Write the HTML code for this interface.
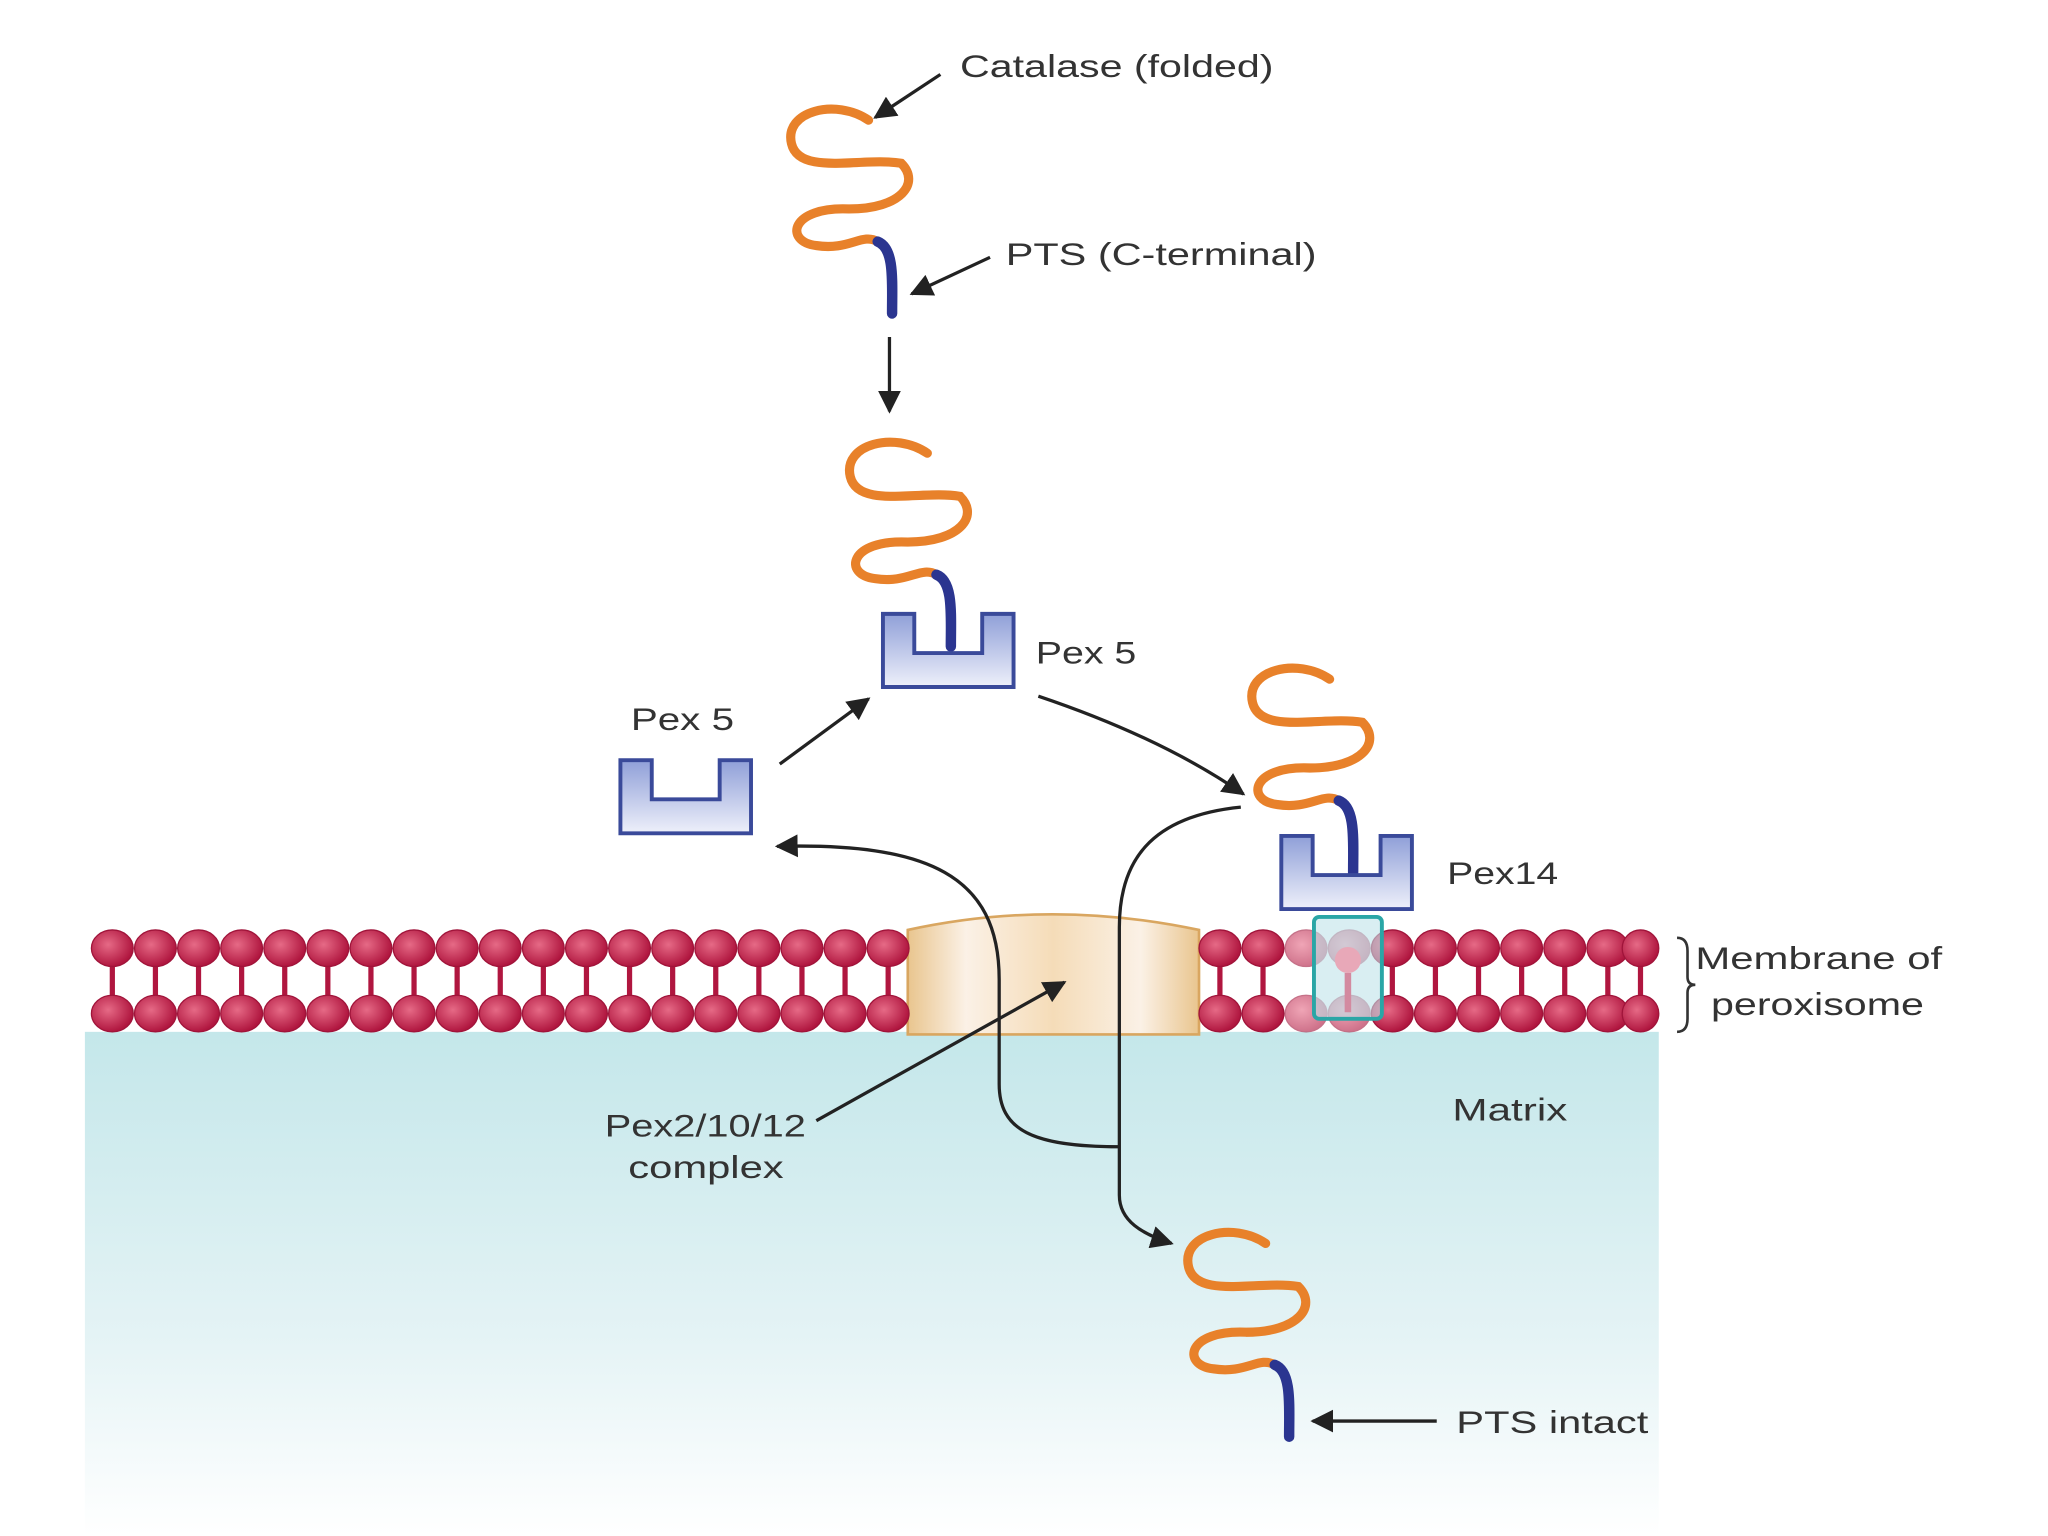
<!DOCTYPE html>
<html><head><meta charset="utf-8"><style>
html,body{margin:0;padding:0;background:#fff;}
svg{display:block;}
text{font-family:"Liberation Sans",sans-serif;fill:#333;font-size:24px;}
</style></head><body>
<svg width="2048" height="1536" viewBox="0 0 1568 1176" preserveAspectRatio="none">
<defs>
<linearGradient id="mx" x1="0" y1="0" x2="0" y2="1">
<stop offset="0" stop-color="#c4e7ea"/><stop offset="0.6" stop-color="#e4f3f5"/><stop offset="1" stop-color="#ffffff"/></linearGradient>
<linearGradient id="cup" x1="0" y1="0" x2="0" y2="1">
<stop offset="0" stop-color="#8f9fd8"/><stop offset="1" stop-color="#eef0fa"/></linearGradient>
<linearGradient id="cx" x1="0" y1="0" x2="1" y2="0">
<stop offset="0" stop-color="#e9c58e"/><stop offset="0.2" stop-color="#fbf1e6"/><stop offset="0.5" stop-color="#f5dcb8"/><stop offset="0.8" stop-color="#fbf1e6"/><stop offset="1" stop-color="#e9c58e"/></linearGradient>
<radialGradient id="hd" cx="0.4" cy="0.4" r="0.6">
<stop offset="0" stop-color="#e66a86"/><stop offset="1" stop-color="#b0163f"/></radialGradient>
<marker id="ah" viewBox="0 0 10 10" refX="9" refY="5" markerWidth="7" markerHeight="7" orient="auto"><path d="M0,0 L10,5 L0,10 z" fill="#222"/></marker>
<g id="prot">
<path d="M665,92 C640,75 600,85 606,110 C612,135 660,120 690,125 C705,140 690,160 650,160 C605,158 600,185 625,188 C650,192 660,178 672,185" fill="none" stroke="#e8812a" stroke-width="7" stroke-linecap="round"/>
<path d="M672,185 C685,190 683,215 683,240" fill="none" stroke="#2b3590" stroke-width="8" stroke-linecap="round"/>
</g>
<path id="cupp" d="M0,0 H24 V30 H76 V0 H100 V56 H0 Z" fill="url(#cup)" stroke="#3a4a9a" stroke-width="3"/>
</defs>
<rect x="65" y="790" width="1205" height="386" fill="url(#mx)"/>
<g stroke="#b0163f" stroke-width="4">
<path d="M86,726V776M119,726V776M152,726V776M185,726V776M218,726V776M251,726V776M284,726V776M317,726V776M350,726V776M383,726V776M416,726V776M449,726V776M482,726V776M515,726V776M548,726V776M581,726V776M614,726V776M647,726V776M680,726V776M934,726V776M967,726V776M1066,726V776M1099,726V776M1132,726V776M1165,726V776M1198,726V776M1231,726V776M1256,726V776"/>
</g>
<path d="M695,712 Q805,688 918,712 L918,792 L695,792 Z" fill="url(#cx)" stroke="#d9a660" stroke-width="2"/>
<use href="#prot"/>
<use href="#prot" transform="translate(45,255)"/>
<use href="#prot" transform="translate(353,428)"/>
<use href="#prot" transform="translate(304,860)"/>
<use href="#cupp" transform="translate(676,470)"/>
<use href="#cupp" transform="translate(475,582)"/>
<use href="#cupp" transform="translate(981,640)"/>
<g fill="url(#hd)" stroke="#a0143a" stroke-width="1">
<ellipse cx="86" cy="726" rx="16" ry="14"/><ellipse cx="86" cy="776" rx="16" ry="14"/>
<ellipse cx="119" cy="726" rx="16" ry="14"/><ellipse cx="119" cy="776" rx="16" ry="14"/>
<ellipse cx="152" cy="726" rx="16" ry="14"/><ellipse cx="152" cy="776" rx="16" ry="14"/>
<ellipse cx="185" cy="726" rx="16" ry="14"/><ellipse cx="185" cy="776" rx="16" ry="14"/>
<ellipse cx="218" cy="726" rx="16" ry="14"/><ellipse cx="218" cy="776" rx="16" ry="14"/>
<ellipse cx="251" cy="726" rx="16" ry="14"/><ellipse cx="251" cy="776" rx="16" ry="14"/>
<ellipse cx="284" cy="726" rx="16" ry="14"/><ellipse cx="284" cy="776" rx="16" ry="14"/>
<ellipse cx="317" cy="726" rx="16" ry="14"/><ellipse cx="317" cy="776" rx="16" ry="14"/>
<ellipse cx="350" cy="726" rx="16" ry="14"/><ellipse cx="350" cy="776" rx="16" ry="14"/>
<ellipse cx="383" cy="726" rx="16" ry="14"/><ellipse cx="383" cy="776" rx="16" ry="14"/>
<ellipse cx="416" cy="726" rx="16" ry="14"/><ellipse cx="416" cy="776" rx="16" ry="14"/>
<ellipse cx="449" cy="726" rx="16" ry="14"/><ellipse cx="449" cy="776" rx="16" ry="14"/>
<ellipse cx="482" cy="726" rx="16" ry="14"/><ellipse cx="482" cy="776" rx="16" ry="14"/>
<ellipse cx="515" cy="726" rx="16" ry="14"/><ellipse cx="515" cy="776" rx="16" ry="14"/>
<ellipse cx="548" cy="726" rx="16" ry="14"/><ellipse cx="548" cy="776" rx="16" ry="14"/>
<ellipse cx="581" cy="726" rx="16" ry="14"/><ellipse cx="581" cy="776" rx="16" ry="14"/>
<ellipse cx="614" cy="726" rx="16" ry="14"/><ellipse cx="614" cy="776" rx="16" ry="14"/>
<ellipse cx="647" cy="726" rx="16" ry="14"/><ellipse cx="647" cy="776" rx="16" ry="14"/>
<ellipse cx="680" cy="726" rx="16" ry="14"/><ellipse cx="680" cy="776" rx="16" ry="14"/>
<ellipse cx="934" cy="726" rx="16" ry="14"/><ellipse cx="934" cy="776" rx="16" ry="14"/>
<ellipse cx="967" cy="726" rx="16" ry="14"/><ellipse cx="967" cy="776" rx="16" ry="14"/>
<ellipse cx="1066" cy="726" rx="16" ry="14"/><ellipse cx="1066" cy="776" rx="16" ry="14"/>
<ellipse cx="1099" cy="726" rx="16" ry="14"/><ellipse cx="1099" cy="776" rx="16" ry="14"/>
<ellipse cx="1132" cy="726" rx="16" ry="14"/><ellipse cx="1132" cy="776" rx="16" ry="14"/>
<ellipse cx="1165" cy="726" rx="16" ry="14"/><ellipse cx="1165" cy="776" rx="16" ry="14"/>
<ellipse cx="1198" cy="726" rx="16" ry="14"/><ellipse cx="1198" cy="776" rx="16" ry="14"/>
<ellipse cx="1231" cy="726" rx="16" ry="14"/><ellipse cx="1231" cy="776" rx="16" ry="14"/>
<ellipse cx="1256" cy="726" rx="14" ry="14"/><ellipse cx="1256" cy="776" rx="14" ry="14"/>
</g>
<g fill="url(#hd)" stroke="#a0143a" stroke-width="1" opacity="0.6">
<ellipse cx="1000" cy="726" rx="16" ry="14"/><ellipse cx="1000" cy="776" rx="16" ry="14"/>
<ellipse cx="1033" cy="726" rx="16" ry="14"/><ellipse cx="1033" cy="776" rx="16" ry="14"/>
</g>
<rect x="1006" y="702" width="52" height="78" rx="4" fill="#bfe3ea" fill-opacity="0.6" stroke="#2aa6a6" stroke-width="3"/>
<path d="M1032,745 V775" stroke="#d38aa0" stroke-width="5"/>
<circle cx="1032" cy="735" r="10" fill="#e8a8b8"/>
<g fill="none" stroke="#222" stroke-width="2.5" marker-end="url(#ah)">
<path d="M720,57 L670,90"/>
<path d="M758,197 L698,225"/>
<path d="M681,258 L681,315"/>
<path d="M597,585 L665,535"/>
<path d="M795,533 Q890,565 952,608"/>
<path d="M857,878 C790,878 765,865 765,830 L765,750 C765,670 710,645 595,648"/>
<path d="M950,618 C880,625 857,660 857,710 L857,915 C857,935 875,945 897,952"/>
<path d="M625,858 L815,752"/>
<path d="M1100,1088 L1005,1088"/>
</g>
<path d="M1284,718 q8,0 8,10 v20 q0,6 6,6 q-6,0 -6,6 v20 q0,10 -8,10" fill="none" stroke="#333" stroke-width="2"/>
<g lengthAdjust="spacingAndGlyphs">
<text x="735" y="59" textLength="240" lengthAdjust="spacingAndGlyphs">Catalase (folded)</text>
<text x="770" y="203" textLength="238" lengthAdjust="spacingAndGlyphs">PTS (C-terminal)</text>
<text x="793" y="508" textLength="77" lengthAdjust="spacingAndGlyphs">Pex 5</text>
<text x="483" y="559" textLength="79" lengthAdjust="spacingAndGlyphs">Pex 5</text>
<text x="1108" y="677" textLength="85" lengthAdjust="spacingAndGlyphs">Pex14</text>
<text x="1298" y="742" textLength="189" lengthAdjust="spacingAndGlyphs">Membrane of</text>
<text x="1310" y="777" textLength="163" lengthAdjust="spacingAndGlyphs">peroxisome</text>
<text x="1112" y="858" textLength="88" lengthAdjust="spacingAndGlyphs">Matrix</text>
<text x="463" y="870" textLength="154" lengthAdjust="spacingAndGlyphs">Pex2/10/12</text>
<text x="481" y="902" textLength="119" lengthAdjust="spacingAndGlyphs">complex</text>
<text x="1115" y="1097" textLength="147" lengthAdjust="spacingAndGlyphs">PTS intact</text>
</g>
</svg>
</body></html>
